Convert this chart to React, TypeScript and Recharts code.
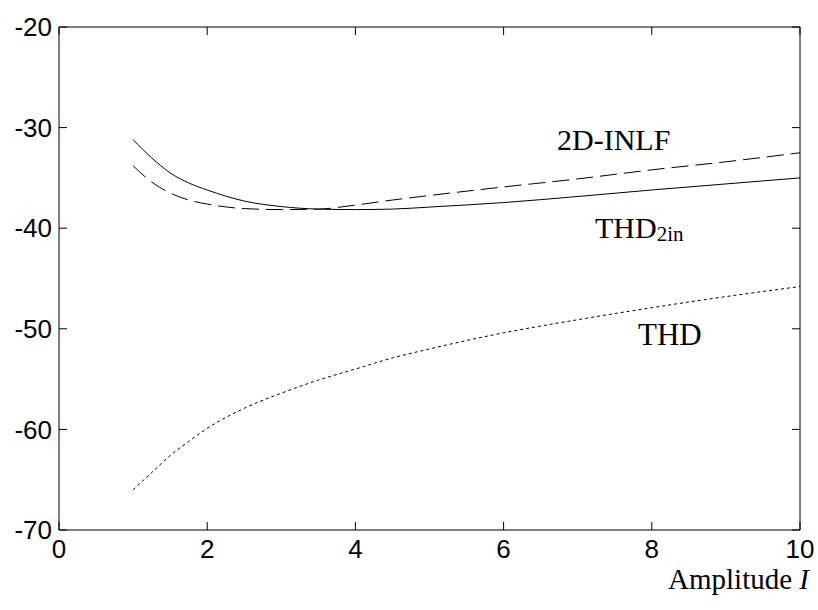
import React from 'react';
import { LineChart, Line, XAxis, YAxis, ReferenceLine } from 'recharts';

// amplitude sample points
const amplitude = [1, 1.25, 1.5, 1.75, 2, 2.5, 3, 3.5, 4, 4.5, 5, 6, 7, 8, 9, 10];
// THD_2in (solid)
const thd2in = [-31.2, -33.0, -34.5, -35.5, -36.2, -37.3, -37.85, -38.1, -38.15, -38.1, -37.9, -37.45, -36.85, -36.2, -35.6, -35.0];
// 2D-INLF (dashed)
const inlf = [-33.8, -35.4, -36.5, -37.2, -37.6, -38.05, -38.15, -38.1, -37.7, -37.2, -36.75, -35.9, -35.1, -34.2, -33.4, -32.5];
// THD (dotted)
const thd = [-66.0, -64.3, -62.6, -61.2, -59.9, -57.9, -56.4, -55.1, -54.0, -52.9, -52.0, -50.4, -49.1, -47.9, -46.8, -45.8];

const xTicks = [0, 2, 4, 6, 8, 10];
const yTicks = [-70, -60, -50, -40, -30, -20];
const xMin = 0, xMax = 10, yMin = -70, yMax = -20;
// inward tick length in data units (~8px)
const xTickLen = 0.108;
const yTickLen = 0.8;

const rows = amplitude.map((a, i) => ({ x: a, thd2in: thd2in[i], inlf: inlf[i], thd: thd[i] }));

if (typeof document !== 'undefined') {
  document.body.style.margin = '0';
  document.body.style.overflow = 'hidden';
}

const tickFont = '"Liberation Sans", Arial, sans-serif';
const serif = '"Liberation Serif", "Times New Roman", serif';
const tickStyle = { fontFamily: tickFont, fontSize: 26, fill: '#000' };
const lineStyle = { stroke: '#000' };

export default function App() {
  return (
    <div style={{ position: 'relative', width: 818, height: 610, background: '#fff' }}>
      <LineChart width={818} height={610} data={rows} margin={{ top: 26, right: 17, bottom: 0, left: 0 }}>
        <XAxis
          dataKey="x"
          type="number"
          domain={[xMin, xMax]}
          ticks={xTicks}
          height={80}
          tickSize={-8}
          tickMargin={18}
          tickLine={false}
          axisLine={lineStyle}
          tick={tickStyle}
        />
        <XAxis
          xAxisId="top"
          orientation="top"
          dataKey="x"
          type="number"
          domain={[xMin, xMax]}
          ticks={xTicks}
          height={1}
          tickLine={false}
          axisLine={lineStyle}
          tick={false}
        />
        <YAxis
          type="number"
          domain={[yMin, yMax]}
          ticks={yTicks}
          width={59}
          tickSize={-8}
          tickMargin={15}
          tickLine={false}
          axisLine={lineStyle}
          tick={tickStyle}
        />
        <YAxis
          yAxisId="right"
          orientation="right"
          type="number"
          domain={[yMin, yMax]}
          ticks={yTicks}
          width={1}
          tickLine={false}
          axisLine={lineStyle}
          tick={false}
        />
        {xTicks.map((t) => (
          <ReferenceLine key={'xb' + t} segment={[{ x: t, y: yMin }, { x: t, y: yMin + yTickLen }]} stroke="#000" />
        ))}
        {xTicks.map((t) => (
          <ReferenceLine key={'xt' + t} segment={[{ x: t, y: yMax }, { x: t, y: yMax - yTickLen }]} stroke="#000" />
        ))}
        {yTicks.map((t) => (
          <ReferenceLine key={'yl' + t} segment={[{ x: xMin, y: t }, { x: xMin + xTickLen, y: t }]} stroke="#000" />
        ))}
        {yTicks.map((t) => (
          <ReferenceLine key={'yr' + t} segment={[{ x: xMax, y: t }, { x: xMax - xTickLen, y: t }]} stroke="#000" />
        ))}
        <Line type="monotone" dataKey="thd2in" stroke="#000" strokeWidth={1} dot={false} isAnimationActive={false} />
        <Line type="monotone" dataKey="inlf" stroke="#000" strokeWidth={1} strokeDasharray="17 7" dot={false} isAnimationActive={false} />
        <Line type="monotone" dataKey="thd" stroke="#000" strokeWidth={1} strokeDasharray="3 3" dot={false} isAnimationActive={false} />
      </LineChart>
      <svg width={818} height={610} style={{ position: 'absolute', left: 0, top: 0, pointerEvents: 'none' }}>
        <text x={557} y={150} fontFamily={serif} fontSize={30} fill="#000">2D-INLF</text>
        <text x={595} y={238} fontFamily={serif} fontSize={30} fill="#000">
          THD<tspan fontSize={21} dy={3}>2in</tspan>
        </text>
        <text x={638} y={345} fontFamily={serif} fontSize={31} fill="#000">THD</text>
        <text x={809} y={589} textAnchor="end" fontFamily={serif} fontSize={29} fill="#000">
          Amplitude <tspan fontStyle="italic">I</tspan>
        </text>
      </svg>
    </div>
  );
}
